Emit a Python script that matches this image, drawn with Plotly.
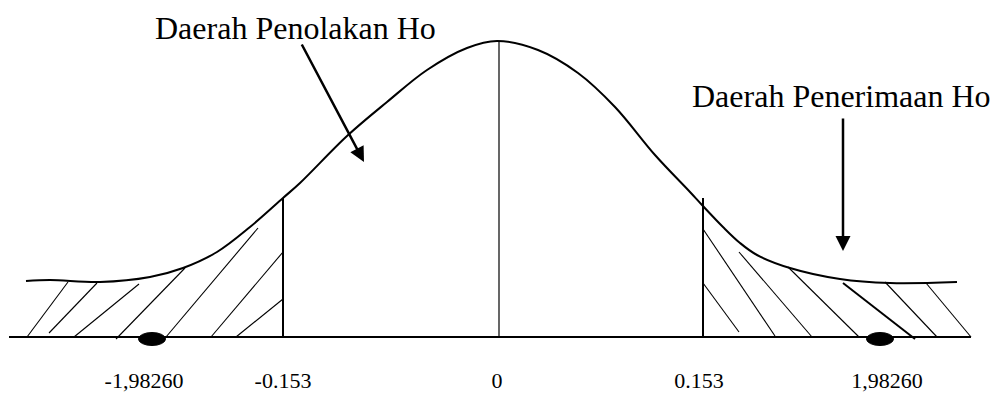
import plotly.graph_objects as go

# kurva (x dalam piksel diagram, y = tinggi di atas garis dasar)
curve_x = [26, 50, 100, 150, 183, 217, 250, 283, 300, 347, 387, 427, 467, 497,
           538, 578, 615, 655, 690, 702, 723, 740, 757, 790, 840, 890, 957]
curve_y = [56, 57, 55, 60, 69, 85, 110, 139, 154, 201, 235, 267, 289, 296,
           287, 264, 230, 182, 145, 132, 110, 94, 82, 69, 58, 54, 55]

# garis batas
left_x, right_x, center_x = 283, 703, 499
bound_top = 139
peak_top = 295

# arsiran kiri dan kanan: (x0, y0, x1, y1)
hatch_left = [(27, 0, 68, 55), (49, 4, 97, 54), (74, 0, 139, 53), (116, -2, 185, 69),
              (166, 0, 258, 109), (211, 0, 283, 85), (236, 0, 283, 38)]
hatch_right = [(703, 54, 739, 5), (703, 108, 775, 1), (739, 85, 812, 0),
               (788, 70, 859, 0), (885, 55, 937, 0), (926, 54, 971, 0)]
hatch_bold = (843, 54, 915, -2)

base_x0, base_x1 = 9, 971
dots_x = [152, 880]

tick_labels = ["-1,98260", "-0.153", "0", "0.153", "1,98260"]
tick_x = [144, 283, 497, 699, 887]

font = "Liberation Serif, Times New Roman, serif"

fig = go.Figure()

def seg_trace(segs, width):
    xs, ys = [], []
    for x0, y0, x1, y1 in segs:
        xs += [x0, x1, None]
        ys += [y0, y1, None]
    return go.Scatter(x=xs, y=ys, mode="lines", line=dict(color="black", width=width),
                      hoverinfo="skip", showlegend=False)

fig.add_trace(seg_trace(hatch_left + hatch_right, 1.1))
fig.add_trace(seg_trace([hatch_bold], 2))
fig.add_trace(seg_trace([(left_x, 0, left_x, bound_top), (right_x, 0, right_x, bound_top)], 2))
fig.add_trace(seg_trace([(center_x, 0, center_x, peak_top)], 1.2))
fig.add_trace(seg_trace([(base_x0, 0, base_x1, 0)], 2.2))

fig.add_trace(go.Scatter(x=curve_x, y=curve_y, mode="lines",
                         line=dict(color="black", width=2, shape="spline", smoothing=1),
                         hoverinfo="skip", showlegend=False))

fig.add_trace(go.Scatter(x=tick_x, y=[-45] * len(tick_x), mode="text", text=tick_labels,
                         textfont=dict(family=font, size=22, color="black"),
                         hoverinfo="skip", showlegend=False))

for dx in dots_x:
    fig.add_shape(type="circle", xref="x", yref="y", x0=dx - 13.5, x1=dx + 13.5,
                  y0=-8.5, y1=4.5, fillcolor="black", line=dict(color="black", width=1))

# judul daerah dan panah
fig.add_annotation(x=295, y=309, text="Daerah Penolakan Ho", showarrow=False,
                   font=dict(family=font, size=32, color="black"), xanchor="center",
                   height=30)
fig.add_annotation(x=993, y=241, text="Daerah Penerimaan Ho", showarrow=False,
                   font=dict(family=font, size=32, color="black"), xanchor="right",
                   height=30)
fig.add_annotation(x=364, y=175, ax=301, ay=294, axref="x", ayref="y", text="",
                   showarrow=True, arrowhead=2, arrowsize=1.2, arrowwidth=2.5,
                   arrowcolor="black")
fig.add_annotation(x=843, y=86, ax=843, ay=220, axref="x", ayref="y", text="",
                   showarrow=True, arrowhead=2, arrowsize=1.2, arrowwidth=2.5,
                   arrowcolor="black")

# halaman html punya margin body 8px, jadi gambar dibuat 8px lebih kecil
fig.update_layout(
    width=994, height=391,
    margin=dict(l=0, r=0, t=0, b=0),
    paper_bgcolor="white", plot_bgcolor="white",
    xaxis=dict(range=[8, 1002], visible=False, fixedrange=True),
    yaxis=dict(range=[-62, 329], visible=False, fixedrange=True),
)

fig.write_html("out.html")
